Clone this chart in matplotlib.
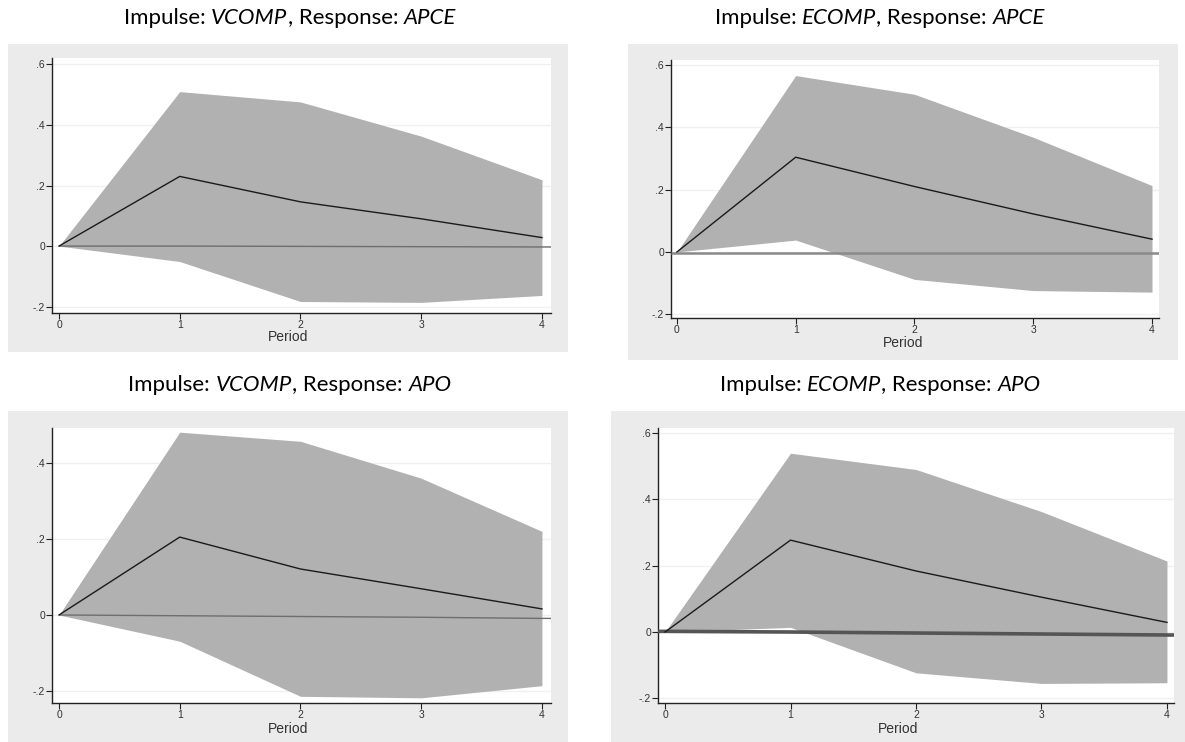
import matplotlib
matplotlib.use("Agg")
import matplotlib.pyplot as plt
from matplotlib.patches import Rectangle

# ---------------- data ----------------
periods = [0, 1, 2, 3, 4]

titles_impulse = ["VCOMP", "ECOMP", "VCOMP", "ECOMP"]
titles_response = ["APCE", "APCE", "APO", "APO"]

irf_vcomp_apce = [0, 0.230, 0.146, 0.090, 0.028]
up_vcomp_apce = [0, 0.510, 0.476, 0.363, 0.219]
lo_vcomp_apce = [0, -0.051, -0.183, -0.186, -0.163]
zero_vcomp_apce = [0, 0, -0.001, -0.002, -0.003]

irf_ecomp_apce = [0, 0.304, 0.210, 0.122, 0.041]
up_ecomp_apce = [0, 0.566, 0.506, 0.368, 0.213]
lo_ecomp_apce = [0, 0.038, -0.088, -0.124, -0.129]
zero_ecomp_apce = [-0.004, -0.004, -0.004, -0.004, -0.004]

irf_vcomp_apo = [0, 0.205, 0.121, 0.069, 0.016]
up_vcomp_apo = [0, 0.481, 0.457, 0.360, 0.220]
lo_vcomp_apo = [0, -0.069, -0.214, -0.218, -0.186]
zero_vcomp_apo = [0, -0.002, -0.004, -0.006, -0.009]

irf_ecomp_apo = [0, 0.277, 0.184, 0.105, 0.029]
up_ecomp_apo = [0, 0.539, 0.490, 0.363, 0.214]
lo_ecomp_apo = [0, 0.014, -0.123, -0.155, -0.153]
zero_ecomp_apo = [0.002, 0, -0.003, -0.006, -0.009]

yticks_a = [-0.2, 0, 0.2, 0.4, 0.6]
ytick_labels_a = ["-.2", "0", ".2", ".4", ".6"]
yticks_b = [-0.2, 0, 0.2, 0.4]
ytick_labels_b = ["-.2", "0", ".2", ".4"]

# ---------------- layout ----------------
W, H = 1185, 742
fig = plt.figure(figsize=(W / 100, H / 100), dpi=100)
fig.patch.set_facecolor("white")

def frac_rect(l, t, r, b):
    return [l / W, 1 - b / H, (r - l) / W, (b - t) / H]

panels = [
    dict(box=(8, 44, 568, 352), ax=(52, 58, 551, 313), xlim=(-0.058, 4.075), ylim=(-0.221, 0.621),
         irf=irf_vcomp_apce, up=up_vcomp_apce, lo=lo_vcomp_apce, zero=zero_vcomp_apce,
         zfromaxis=False, zlw=1.0, zcol="#6e6e6e", yt=yticks_a, ytl=ytick_labels_a,
         title_xy=(290, 18), per_y=337),
    dict(box=(628, 44, 1178, 360), ax=(671, 60, 1159, 318), xlim=(-0.05, 4.059), ylim=(-0.212, 0.616),
         irf=irf_ecomp_apce, up=up_ecomp_apce, lo=lo_ecomp_apce, zero=zero_ecomp_apce,
         zfromaxis=True, zlw=1.8, zcol="#8a8a8a", yt=yticks_a, ytl=ytick_labels_a,
         title_xy=(880, 18), per_y=343),
    dict(box=(8, 411, 568, 742), ax=(52, 428, 551, 703), xlim=(-0.058, 4.075), ylim=(-0.2316, 0.492),
         irf=irf_vcomp_apo, up=up_vcomp_apo, lo=lo_vcomp_apo, zero=zero_vcomp_apo,
         zfromaxis=False, zlw=1.0, zcol="#6e6e6e", yt=yticks_b, ytl=ytick_labels_b,
         title_xy=(290, 385), per_y=729),
    dict(box=(611, 411, 1185, 742), ax=(658, 428, 1174, 703), xlim=(-0.056, 4.056), ylim=(-0.214, 0.615),
         irf=irf_ecomp_apo, up=up_ecomp_apo, lo=lo_ecomp_apo, zero=zero_ecomp_apo,
         zfromaxis=True, zlw=2.6, zcol="#555555", yt=yticks_a, ytl=ytick_labels_a,
         title_xy=(880, 385), per_y=729),
]

band_col = "#b1b1b1"
box_col = "#ebebeb"
tick_font = "Liberation Sans"

fig.canvas.draw()
renderer = fig.canvas.get_renderer()

for i, p in enumerate(panels):
    l, t, r, b = p["box"]
    fig.patches.append(Rectangle((l / W, 1 - b / H), (r - l) / W, (b - t) / H,
                                 transform=fig.transFigure, facecolor=box_col,
                                 edgecolor="none", zorder=-5))
    ax = fig.add_axes(frac_rect(*p["ax"]))
    ax.set_zorder(1)
    ax.set_facecolor("white")
    ax.set_xlim(*p["xlim"])
    ax.set_ylim(*p["ylim"])
    for yv in p["yt"]:
        ax.axhline(yv, color="#f0f0f0", lw=1.0, zorder=1)
    ax.fill_between(periods, p["lo"], p["up"], color=band_col, lw=0, zorder=2)
    xs = list(periods)
    zs = list(p["zero"])
    if p["zfromaxis"]:
        xs = [p["xlim"][0]] + xs
        zs = [zs[0]] + zs
    xs = xs + [p["xlim"][1]]
    zs = zs + [zs[-1]]
    ax.plot(xs, zs, color=p["zcol"], lw=p["zlw"], zorder=3, solid_capstyle="butt")
    ax.plot(periods, p["irf"], color="#1a1a1a", lw=1.0, zorder=4)

    for s in ["top", "right"]:
        ax.spines[s].set_visible(False)
    for s in ["left", "bottom"]:
        ax.spines[s].set_color("#222222")
        ax.spines[s].set_linewidth(1.0)
    ax.set_xticks(periods)
    ax.set_xticklabels([str(v) for v in periods], fontsize=7.5, family=tick_font, color="#333333")
    ax.set_yticks(p["yt"])
    ax.set_yticklabels(p["ytl"], fontsize=7.5, family=tick_font, color="#333333")
    ax.tick_params(axis="both", direction="out", length=4, width=0.8, color="#222222", pad=1.0)
    ax.grid(False)

    # Period label, centred on the grey panel box
    cx = (l + r) / 2
    fig.text(cx / W, 1 - p["per_y"] / H, "Period", ha="center", va="center",
             fontsize=10, family=tick_font, color="#333333")

    # Title with italic parts
    tx, ty = p["title_xy"]
    fam = "Lato"
    fs = 16
    parts = [("Impulse: ", "normal"), (titles_impulse[i], "italic"), (", Response: ", "normal"),
             (titles_response[i], "italic")]
    texts = []
    total = 0
    for s, st in parts:
        tt = fig.text(0, 0, s, fontsize=fs, family=fam, style=st, color="black", va="center")
        bb = tt.get_window_extent(renderer=renderer)
        texts.append((tt, bb.width))
        total += bb.width
    x0 = tx - total / 2
    for tt, w in texts:
        tt.set_position((x0 / W, 1 - ty / H))
        x0 += w

fig.savefig("out.png", dpi=100)
